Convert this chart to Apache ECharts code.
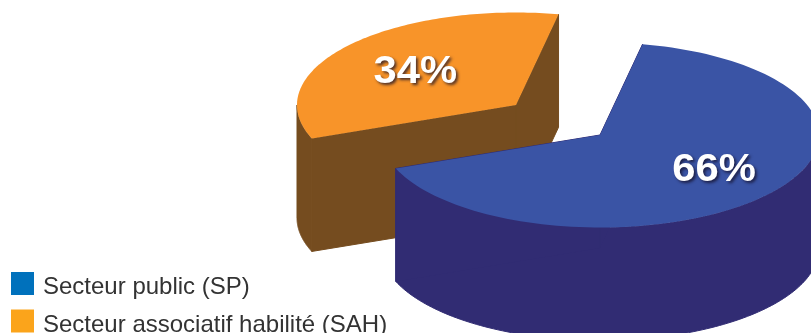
<!DOCTYPE html>
<html><head><meta charset="utf-8">
<style>html,body{margin:0;padding:0;background:#fff;overflow:hidden}#c{width:811px;height:333px}</style>
<script src="https://cdn.jsdelivr.net/npm/echarts@6/dist/echarts.min.js"></script>
</head><body><div id="c"></div>
<script>
const categories = ['Secteur associatif habilité (SAH)', 'Secteur public (SP)'];
const legendOrder = ['Secteur public (SP)', 'Secteur associatif habilité (SAH)'];
const values = [34, 66];
const labels = ['34%', '66%'];

const legendColors = {'Secteur public (SP)': '#0071BC', 'Secteur associatif habilité (SAH)': '#FBA41B'};
const styles = [
  {top: '#F89429', side: '#754C1F', cx: 516, cy: 105, lx: 0.6, ly: 0.6},
  {top: '#3A54A5', side: '#312C73', cx: 600, cy: 135, lx: 0.68, ly: 0.555}
];
const RX = 219, RY = 92.5, DEPTH = 113, START = 248.8, LABEL_DY = 3;
const total = values.reduce((a, b) => a + b, 0);
let acc = START;
const ranges = values.map(v => { const s = acc; acc += v / total * 360; return [s, acc]; });

function pt(st, deg, dz) {
  const t = deg * Math.PI / 180;
  return [st.cx + RX * Math.sin(t), st.cy - RY * Math.cos(t) + (dz || 0)];
}
function arc(st, a, b, dz) {
  const out = [], n = 120;
  for (let i = 0; i <= n; i++) out.push(pt(st, a + (b - a) * i / n, dz));
  return out;
}
function renderer(idx) {
  return function () {
    const st = styles[idx];
    const a0 = ranges[idx][0] % 360, b0 = a0 + (ranges[idx][1] - ranges[idx][0]);
    // the outer wall is only visible on the front half of the ellipse
    const fa = Math.max(a0, 90), fb = Math.min(b0, 270);
    const apex = [st.cx, st.cy], apexB = [st.cx, st.cy + DEPTH];
    const ps = pt(st, a0), pe = pt(st, b0), psB = pt(st, a0, DEPTH), peB = pt(st, b0, DEPTH);
    const side = {fill: st.side, stroke: st.side, lineWidth: 1};
    const mid = (a0 + b0) / 2;
    const rad = mid * Math.PI / 180;
    const lp = [st.cx + RX * st.lx * Math.sin(rad), st.cy - RY * st.ly * Math.cos(rad) + LABEL_DY];
    return {type: 'group', silent: true, children: [
      {type: 'polygon', shape: {points: arc(st, fa, fb, 0).concat(arc(st, fb, fa, DEPTH))}, style: side},
      {type: 'polygon', shape: {points: [apex, ps, psB, apexB]}, style: side},
      {type: 'polygon', shape: {points: [apex, pe, peB, apexB]}, style: side},
      {type: 'polygon', shape: {points: [apex].concat(arc(st, a0, b0, 0))}, style: {fill: st.top}},
      {type: 'text', x: lp[0], y: lp[1], scaleX: 1.1, style: {
        text: labels[idx], fill: '#fff', fontFamily: 'Liberation Sans, Arial, sans-serif',
        fontWeight: 'bold', fontSize: 38, align: 'center', verticalAlign: 'middle',
        textShadowColor: 'rgba(20,15,40,0.75)', textShadowBlur: 3, textShadowOffsetX: 2, textShadowOffsetY: 2
      }}
    ]};
  };
}
const chart = echarts.init(document.getElementById('c'), null, {renderer: 'canvas'});
chart.setOption({
  animation: false,
  legend: {
    orient: 'vertical', left: 11, top: 272, height: 120, padding: 0, itemWidth: 23, itemHeight: 23, itemGap: 10,
    selectedMode: false,
    formatter: '{a|{name}}',
    textStyle: {rich: {a: {fontFamily: 'Liberation Sans, Arial, sans-serif', fontSize: 24, color: '#333333', padding: [8, 0, 0, 4]}}},
    data: legendOrder.map(n => ({name: n, icon: 'rect', itemStyle: {color: legendColors[n]}}))
  },
  series: categories.map((name, i) => ({
    type: 'custom', name, coordinateSystem: 'none', silent: true,
    data: [[values[i]]], renderItem: renderer(i),
    itemStyle: {color: legendColors[name]}
  }))
});
</script></body></html>
